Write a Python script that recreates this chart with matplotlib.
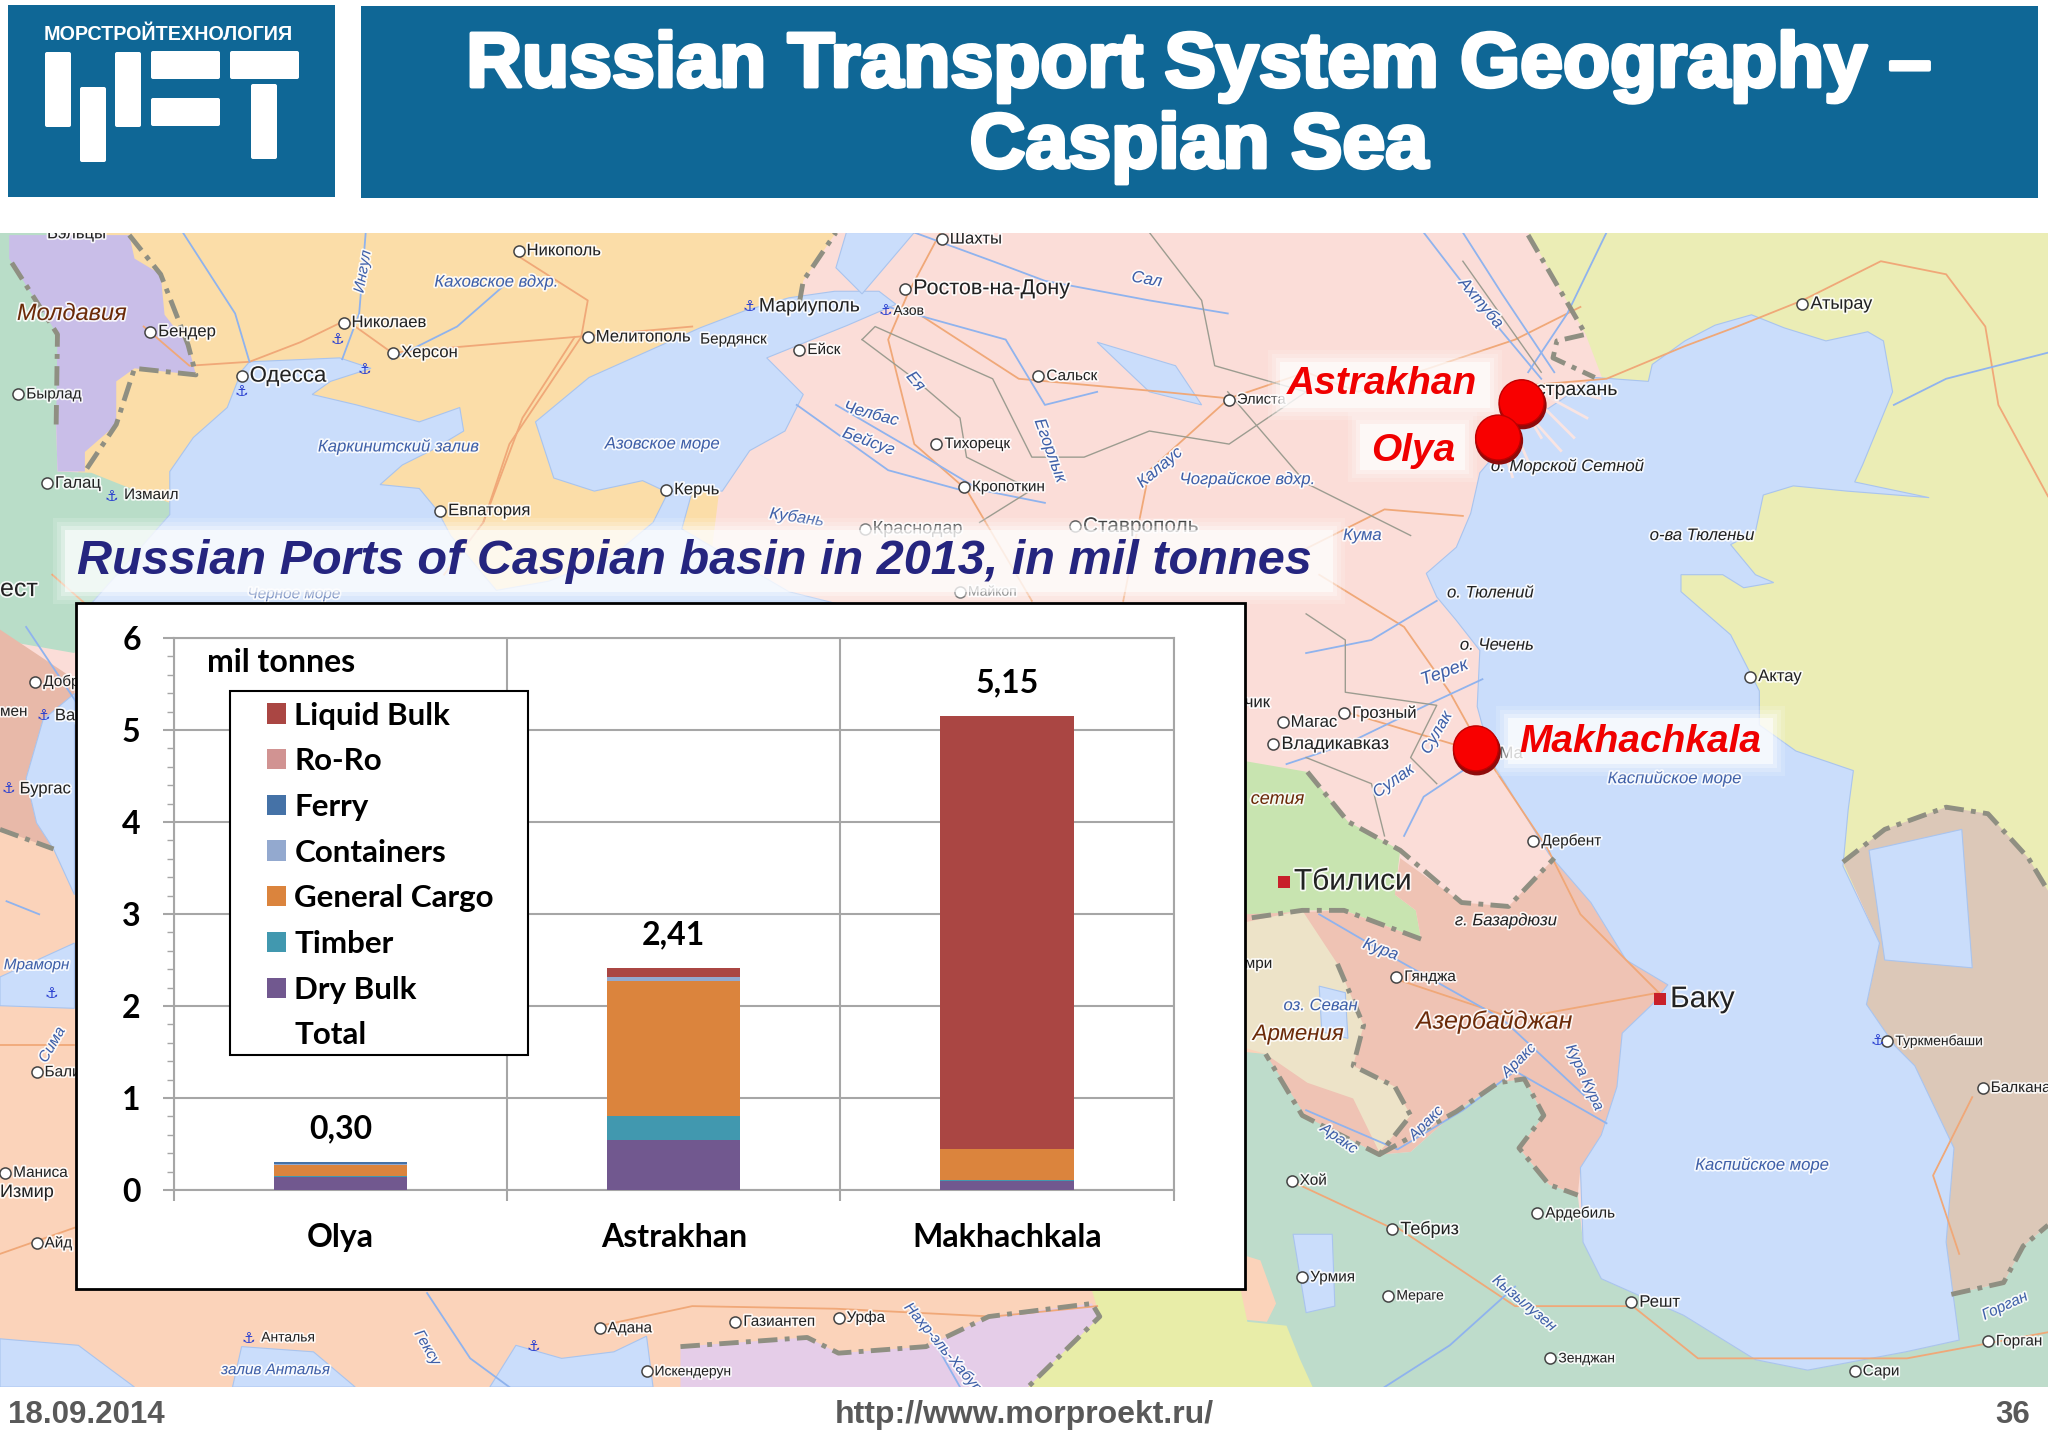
import matplotlib
matplotlib.use('Agg')
import matplotlib.pyplot as plt
import matplotlib.patheffects as pe
from matplotlib.patches import Rectangle, Polygon, Circle, FancyBboxPatch, Patch

# Chart data, mil tonnes
ports = ['Olya', 'Astrakhan', 'Makhachkala']
totals = [0.30, 2.41, 5.15]
total_labels = ['0,30', '2,41', '5,15']
dry_bulk = [0.14, 0.54, 0.10]
timber = [0.01, 0.265, 0.005]
general_cargo = [0.12, 1.47, 0.345]
containers = [0.01, 0.045, 0.0]
ferry = [0.02, 0.0, 0.0]
ro_ro = [0.0, 0.0, 0.0]
liquid_bulk = [0.0, 0.09, 4.70]

series_names = ['Dry Bulk', 'Timber', 'General Cargo', 'Containers', 'Ferry', 'Ro-Ro', 'Liquid Bulk']
series_values = [dry_bulk, timber, general_cargo, containers, ferry, ro_ro, liquid_bulk]
series_colors = ['#71588F', '#4198AF', '#DB843D', '#93A9CF', '#4572A7', '#D19392', '#AA4643']

BLUE = '#0F6796'
SEA = '#CADDFB'
S = 2048 / 1568  # map outlines were read at 1568 wide

# Map outlines: colour, points
map_regions = [
    ('#FBDDA8', [(60,178),(640,178),(615,215),(612,232),(560,300),(540,462),(100,462),(130,385),(60,365)]),
    ('#B9DDC8', [(0,178),(50,178),(43,325),(44,361),(70,362),(95,372),(130,385),(130,400),(70,462),(57,500),(0,490)]),
    ('#C9BEE8', [(7,180),(99,180),(103,198),(123,210),(126,241),(144,264),(150,287),(103,282),(89,292),
                 (89,325),(65,346),(65,361),(44,361),(43,325),(44,256),(21,220),(7,198)]),
    ('#E8B9A9', [(0,482),(57,520),(57,535),(33,551),(20,596),(28,630),(41,650),(0,640)]),
    ('#FBD3BA', [(0,635),(41,650),(57,685),(985,685),(985,1062),(0,1062)]),
    ('#EBEDB5', [(1170,178),(1568,178),(1568,700),(1411,680),(1300,560),(1280,430),(1214,256)]),
    ('#C8E4B0', [(949,582),(1001,591),(1032,629),(1072,651),(1068,685),(1084,697),(1088,719),(1029,697),
                 (997,697),(949,704)]),
    ('#EFC3B4', [(1072,657),(1119,691),(1155,694),(1190,657),(1218,691),(1245,735),(1277,754),(1265,769),
                 (1242,791),(1238,832),(1226,869),(1210,894),(1208,915),(1186,907),(1163,879),(1182,854),
                 (1167,826),(1147,829),(1115,851),(1080,882),(1056,884),(997,854),(973,820),(953,700),
                 (1029,697),(1088,719),(1084,697),(1068,685)]),
    ('#EDE3C8', [(949,707),(997,697),(1024,738),(1044,785),(1036,816),(1068,832),(1080,854),(1056,882),
                 (1036,841),(1001,829),(969,807),(949,801)]),
    ('#BEDCCB', [(949,805),(969,807),(1000,855),(1056,884),(1080,882),(1115,851),(1147,829),(1167,826),
                 (1182,854),(1163,879),(1186,907),(1208,915),(1212,951),(1226,979),(1289,1007),(1344,1041),
                 (1384,1049),(1459,1035),(1500,1026),(1494,991),(1534,982),(1549,954),(1568,938),(1568,1062),
                 (949,1062)]),
    ('#DCC8B8', [(1411,660),(1443,635),(1490,618),(1522,623),(1553,657),(1568,682),(1568,938),(1549,954),
                 (1534,982),(1494,991),(1490,951),(1496,879),(1451,801),(1429,769),(1439,722)]),
    ('#FBD3BA', [(949,960),(965,965),(977,998),(970,1012),(949,1010)]),
    ('#E8EDA8', [(836,988),(950,988),(955,1012),(985,1015),(995,1040),(1005,1062),(787,1062),(842,1008)]),
    ('#E5CDE8', [(521,1031),(618,1024),(642,1036),(709,1031),(757,1008),(836,998),(842,1008),(787,1062),(521,1062)]),
]
map_seas = [
    [(70,462),(130,394),(130,361),(148,335),(174,312),(185,284),(191,277),(260,274),(284,282),(253,292),
     (239,302),(273,310),(321,323),(352,312),(355,330),(330,345),(308,356),(291,371),(321,374),(335,391),
     (345,410),(380,452),(420,445),(470,425),(500,400),(512,376),(530,376),(522,405),(604,453),(640,462)],
    [(424,366),(410,323),(451,289),(536,251),(570,238),(604,228),(639,223),(673,223),(686,233),(649,249),
     (587,274),(615,302),(601,330),(574,345),(553,376),(509,376),(492,368),(455,376)],
    [(1221,289),(1262,292),(1265,279),(1290,261),(1313,249),(1341,241),(1366,251),(1398,261),(1430,254),
     (1442,261),(1449,300),(1426,356),(1420,369),(1477,381),(1414,376),(1373,372),(1350,379),(1344,407),
     (1325,417),(1344,440),(1358,446),(1335,450),(1319,440),(1287,440),(1287,453),(1325,486),(1347,529),
     (1347,555),(1375,575),(1419,590),(1415,620),(1411,663),(1439,722),(1429,769),(1451,801),(1466,816),
     (1496,879),(1490,951),(1500,1026),(1459,1035),(1384,1049),(1344,1041),(1289,1007),(1226,979),(1212,951),
     (1210,894),(1226,869),(1238,832),(1242,791),(1265,769),(1277,754),(1245,735),(1218,691),(1186,654),
     (1147,591),(1143,585),(1131,541),(1133,498),(1115,475),(1100,457),(1092,439),(1115,419),(1126,393),
     (1133,362),(1161,329)],
    [(1431,651),(1502,635),(1510,741),(1443,735)],
    [(57,531),(33,551),(20,596),(28,630),(41,650),(57,685)],
    [(0,748),(57,722),(57,772),(0,770)],
    [(0,1025),(60,1030),(80,1045),(103,1062),(0,1062)],
    [(178,1062),(185,1031),(240,1035),(272,1062)],
    [(375,1062),(395,1030),(430,1040),(470,1035),(495,1023),(500,1062)],
    [(648,178),(700,178),(660,225),(640,205)],
    [(1010,755),(1030,760),(1032,795),(1012,790)],
    [(990,945),(1020,945),(1022,1000),(1000,1005)],
    [(840,262),(880,300),(920,310),(900,280)],
]
map_delta = [
    [(1165,310),(1180,335)], [(1168,315),(1195,345)], [(1175,305),(1205,335)], [(1178,300),(1215,320)],
    [(1160,330),(1172,358)], [(1150,340),(1158,365)], [(1185,295),(1225,305)],
]
map_rivers = [
    [(140,178),(180,240),(191,277)],
    [(280,178),(275,240),(262,275)],
    [(390,215),(350,250),(300,275)],
    [(700,178),(760,200),(800,215),(880,230),(940,240)],
    [(680,235),(770,260),(800,310),(840,300)],
    [(1180,290),(1130,230),(1090,178)],
    [(1190,285),(1150,225),(1120,178)],
    [(640,310),(700,345),(750,375),(800,385)],
    [(610,310),(680,360),(735,375)],
    [(985,585),(1030,570),(1092,540),(1135,520)],
    [(1000,500),(1050,490),(1100,460)],
    [(1120,590),(1090,610),(1075,640)],
    [(1000,850),(1070,880),(1120,850),(1160,820),(1230,860)],
    [(1010,700),(1070,735),(1150,780),(1225,850)],
    [(1160,985),(1110,1030),(1060,1062)],
    [(327,990),(360,1040),(390,1062)],
    [(700,1000),(735,1062)],
    [(1230,178),(1200,240),(1170,285)],
    [(1568,270),(1490,290),(1450,310)],
    [(20,480),(60,540)],
    [(30,700),(5,690)],
]
map_roads = [
    [(110,250),(145,280),(191,277),(230,262),(265,245),(300,270),(440,258),(530,250)],
    [(395,195),(450,230),(445,258),(390,340),(370,400)],
    [(440,258),(400,320),(370,400),(340,440)],
    [(720,178),(695,225),(680,260),(700,340),(740,375),(790,460)],
    [(695,235),(780,290),(890,300),(941,305),(1000,285),(1040,300),(1160,260),(1210,235)],
    [(941,305),(880,360),(860,460)],
    [(1000,420),(1060,390),(1120,395)],
    [(1010,440),(1075,480),(1110,530),(1135,575),(1185,650),(1210,700),(1270,760)],
    [(1030,545),(1130,575)],
    [(1380,230),(1330,250),(1290,265),(1230,290),(1170,295)],
    [(1380,230),(1440,200),(1490,210),(1520,250),(1530,310),(1568,380)],
    [(1070,750),(1160,780),(1270,760)],
    [(1070,940),(1160,1000),(1250,1000),(1300,1040),(1460,1040),(1568,1020)],
    [(990,905),(1065,940)],
    [(0,800),(57,800)],
    [(0,960),(57,940)],
    [(460,1015),(530,1000),(640,1002),(760,1008),(840,1000)],
    [(40,440),(65,462)],
    [(1510,840),(1480,900),(1500,960)],
]
map_borders = [
    [(1170,180),(1214,256),(1192,261),(1189,274),(1221,289)],
    [(1411,660),(1443,635),(1490,618),(1522,623),(1553,657),(1568,682)],
    [(1001,591),(1032,629),(1072,651),(1119,691),(1155,694),(1190,657)],
    [(1088,719),(1029,697),(997,697),(949,704)],
    [(1024,738),(1044,785),(1036,816),(1068,832),(1080,854),(1056,884),(997,854),(969,807)],
    [(1056,884),(1115,851),(1147,829),(1167,826),(1182,854),(1163,879),(1186,907),(1208,915)],
    [(43,325),(44,256),(21,220),(7,198)],
    [(99,180),(123,210),(144,264),(150,287),(103,282),(89,325),(65,361)],
    [(521,1031),(618,1024),(642,1036),(709,1031),(757,1008),(836,998),(842,1008),(787,1062)],
    [(612,232),(615,215),(640,178)],
    [(1494,991),(1534,982),(1549,954),(1568,938)],
    [(0,635),(41,650)],
]
map_regional = [
    [(660,260),(670,250),(760,290),(780,330),(790,350),(830,350),(880,330),(941,340),(1000,300),(930,280),(920,230),(880,178)],
    [(750,400),(790,375),(740,350),(735,320),(700,290),(660,260)],
    [(1080,410),(1000,370),(940,300)],
    [(1120,200),(1180,285)],
    [(1000,470),(1030,490),(1030,530),(1100,540),(1080,580),(1100,600)],
    [(1000,580),(1050,600),(1060,640)],
]
# x, y, text, size
map_cities = [
    (397,192,'Никополь',12), (721,183,'Шахты',12), (693,221,'Ростов-на-Дону',15.5), (263,247,'Николаев',12),
    (115,254,'Бендер',12), (301,270,'Херсон',12), (450,258,'Мелитополь',12),
    (612,268,'Ейск',11), (185,288,'Одесса',16), (795,288,'Сальск',11), (941,306,'Элиста',10.5),
    (1380,233,'Атырау',13), (717,340,'Тихорецк',11), (738,373,'Кропоткин',11), (337,391,'Евпатория',12),
    (510,375,'Керчь',12), (36,370,'Галац',12), (14,302,'Бырлад',11), (1340,518,'Актау',12),
    (1029,546,'Грозный',12), (982,553,'Магас',12), (975,570,'Владикавказ',13), (1174,644,'Дербент',11),
    (1069,748,'Гянджа',11), (989,904,'Хой',11), (1066,941,'Тебриз',13), (1177,929,'Ардебиль',11),
    (997,978,'Урмия',11), (1063,992,'Мераге',10), (1249,997,'Решт',12), (1187,1040,'Зенджан',10),
    (1420,1050,'Сари',11), (1518,833,'Балкана',11), (1522,1027,'Горган',11), (27,522,'Добр',11),
    (28,821,'Бали',11), (4,898,'Маниса',11), (28,952,'Айд',11), (459,1017,'Адана',11),
    (563,1012,'Газиантеп',11), (642,1009,'Урфа',11), (495,1050,'Искендерун',10), (1445,797,'Туркменбаши',10),
    (823,403,'Ставрополь',15), (662,405,'Краснодар',13), (735,453,'Майкоп',10),
]
map_plain = [
    (36,179,'Бэльцы',12), (0,451,'ест',18), (0,545,'мен',11), (95,379,'Измаил',11), (42,548,'Вар',12),
    (15,604,'Бургас',12), (200,1024,'Анталья',10), (581,235,'Мариуполь',14), (684,238,'Азов',10),
    (0,913,'Измир',13), (1176,299,'страхань',14), (953,538,'чик',12), (953,738,'мри',11), (1148,577,'Ма',12),
    (536,260,'Бердянск',11),
]
map_blue = [
    (380,216,'Каховское вдхр.',12,0), (305,342,'Каркинитский залив',12,0), (507,340,'Азовское море',12,0),
    (667,317,'Челбас',12,-15), (665,338,'Бейсуг',12,-20), (701,292,'Ея',12,-50), (878,214,'Сал',12,-10),
    (888,358,'Калаус',12,40), (804,345,'Егорлык',12,-70), (955,367,'Чограйское вдхр.',12,0),
    (610,396,'Кубань',12,-8), (1043,410,'Кума',12,0), (1134,232,'Ахтуба',12,-50), (1106,515,'Терек',13,20),
    (1100,561,'Сулак',12,60), (1067,598,'Сулак',12,35), (1282,596,'Каспийское море',12,0),
    (1057,727,'Кура',12,-20), (1011,770,'оз. Севан',12,0), (1349,892,'Каспийское море',12,0),
    (1213,825,'Кура Кура',11,-65), (1163,812,'Аракс',11,45), (1092,860,'Аракс',11,45), (1025,872,'Аракс',11,-35),
    (1167,998,'Кызылузен',11,-40), (1535,1000,'Горган',11,25), (211,1049,'залив Анталья',11,0),
    (327,1032,'Гексу',11,-60), (722,1032,'Нахр-эль-Хабур',11,-50), (28,739,'Мраморн',11,0), (278,208,'Ингул',11,80),
    (225,455,'Черное море',11,0), (40,800,'Сима',11,60),
]
map_dark_italic = [
    (1200,357,'о. Морской Сетной',12), (1303,410,'о-ва Тюленьи',12), (1141,454,'о. Тюлений',12),
    (1146,494,'о. Чечень',12), (1153,705,'г. Базардюзи',12),
]
map_countries = [
    (55,240,'Молдавия',17), (1144,782,'Азербайджан',18), (994,792,'Армения',16), (978,612,'сетия',13),
]
map_anchors = [(185,300),(258,260),(279,283),(85,380),(574,235),(678,238),(33,548),(6,604),(39,761),(190,1025),(408,1031),(1437,797)]
capitals = [(983,675,'Тбилиси',21.5), (1271,765,'Баку',21.5)]

port_labels = [('Astrakhan',1058,294,28), ('Olya',1082,345,28), ('Makhachkala',1256,568,28)]
port_dots = [(1165,308), (1147,335), (1130,573)]

fig = plt.figure(figsize=(20.48, 14.48), dpi=100, facecolor='white')

# Full page axes in image pixels
bg = fig.add_axes([0, 0, 1, 1])
bg.set_xlim(0, 2048)
bg.set_ylim(1448, 0)
bg.axis('off')

def px(pts):
    return [(x * S, y * S) for x, y in pts]

halo = [pe.withStroke(linewidth=2.5, foreground='white', alpha=0.85)]

# --- map ---
bg.add_patch(Rectangle((0, 233), 2048, 1154, fc='#FBDDD8', ec='none', zorder=1))
for color, pts in map_regions:
    bg.add_patch(Polygon(px(pts), fc=color, ec='none', zorder=2))
for pts in map_seas:
    bg.add_patch(Polygon(px(pts), fc=SEA, ec='#A9C4EE', lw=0.8, zorder=3))
for pts in map_delta:
    xy = px(pts)
    bg.plot([p[0] for p in xy], [p[1] for p in xy], color='#F9E4E2', lw=2, zorder=4)
for pts in map_roads:
    xy = px(pts)
    bg.plot([p[0] for p in xy], [p[1] for p in xy], color='#F0A878', lw=1.3, zorder=4)
for pts in map_rivers:
    xy = px(pts)
    bg.plot([p[0] for p in xy], [p[1] for p in xy], color='#8FB3EE', lw=1.3, zorder=4)
for pts in map_regional:
    xy = px(pts)
    bg.plot([p[0] for p in xy], [p[1] for p in xy], color='#9C9C90', lw=1, zorder=4)
for pts in map_borders:
    xy = px(pts)
    bg.plot([p[0] for p in xy], [p[1] for p in xy], color='#8F8F82', lw=3.5, zorder=4,
            dashes=(4, 1.5, 1, 1.5))

for x, y, name, size in map_cities:
    bg.plot(x * S, y * S, 'o', ms=8, mfc='white', mec='#444444', mew=1.1, zorder=5)
    bg.text(x * S + 8, y * S, name, fontsize=size, color='#222222', family='Liberation Sans', va='center',
            path_effects=halo, zorder=6)
for x, y, name, size in map_plain:
    bg.text(x * S, y * S, name, fontsize=size, color='#222222', family='Liberation Sans', va='center',
            path_effects=halo, zorder=6)
for x, y, name, size, rot in map_blue:
    bg.text(x * S, y * S, name, fontsize=size, color='#3E5FA8', family='Liberation Sans', style='italic',
            ha='center', va='center', rotation=rot, path_effects=halo, zorder=6)
for x, y, name, size in map_dark_italic:
    bg.text(x * S, y * S, name, fontsize=size, color='#222222', family='Liberation Sans', style='italic',
            ha='center', va='center', path_effects=halo, zorder=6)
for x, y, name, size in map_countries:
    bg.text(x * S, y * S, name, fontsize=size, color='#6B2A08', family='Liberation Sans', style='italic',
            ha='center', va='center', path_effects=halo, zorder=6)
for x, y in map_anchors:
    bg.text(x * S, y * S, '\u2693', fontsize=11, color='#2A3FD0', family='DejaVu Sans', ha='center',
            va='center', zorder=6)
for x, y, name, size in capitals:
    bg.add_patch(Rectangle((x * S - 6, y * S - 6), 12, 12, fc='#C8202A', ec='none', zorder=5))
    bg.text(x * S + 10, y * S, name, fontsize=size, color='#222222', family='Liberation Sans', va='center',
            path_effects=halo, zorder=6)

# soft white boxes behind the overlaid captions
for grow, alpha in [(12, 0.15), (8, 0.2), (4, 0.3), (0, 0.6)]:
    bg.add_patch(Rectangle((65 - grow, 530 - grow), 1268 + 2 * grow, 62 + 2 * grow, fc='white', ec='none',
                           alpha=alpha, zorder=7))
    bg.add_patch(Rectangle((1280 - grow, 362 - grow), 210 + 2 * grow, 46 + 2 * grow, fc='white', ec='none',
                           alpha=alpha, zorder=7))
    bg.add_patch(Rectangle((1360 - grow, 424 - grow), 105 + 2 * grow, 46 + 2 * grow, fc='white', ec='none',
                           alpha=alpha, zorder=7))
    bg.add_patch(Rectangle((1508 - grow, 718 - grow), 265 + 2 * grow, 46 + 2 * grow, fc='white', ec='none',
                           alpha=alpha, zorder=7))

for x, y in port_dots:
    bg.add_patch(Circle((x * S + 1, y * S + 3), 24, fc='#8E0B0B', ec='none', zorder=8))
    bg.add_patch(Circle((x * S, y * S), 22.5, fc='#F80000', ec='#C00000', lw=1, zorder=8))
for name, x, y, size in port_labels:
    bg.text(x * S, y * S, name, fontsize=size, color='#F00000', family='Liberation Sans', weight='bold',
            style='italic', ha='center', va='center', zorder=9)

bg.text(532 * S, 430 * S, 'Russian Ports of Caspian basin in 2013, in mil tonnes', fontsize=35, color='#25257F',
        family='Liberation Sans', weight='bold', style='italic', ha='center', va='center', zorder=9)

# --- header and footer ---
bg.add_patch(Rectangle((0, 0), 2048, 233, fc='white', ec='none', zorder=10))
bg.add_patch(Rectangle((0, 1387), 2048, 61, fc='white', ec='none', zorder=10))
bg.add_patch(Rectangle((8, 5), 327, 192, fc=BLUE, ec='none', zorder=11))
bg.add_patch(Rectangle((361, 6), 1677, 192, fc=BLUE, ec='none', zorder=11))

logo_blocks = [(45,52,26,75), (80,87,26,75), (115,52,26,75), (151,51,69,28), (151,98,69,28), (230,51,69,28), (251,84,26,75)]
for x, y, w, h in logo_blocks:
    bg.add_patch(FancyBboxPatch((x + 2, y + 2), w - 4, h - 4, boxstyle='round,pad=2', fc='white', ec='none', zorder=12))
bg.text(168, 35, 'МОРСТРОЙТЕХНОЛОГИЯ', fontsize=14.2, color='white', family='Liberation Sans', weight='bold',
        ha='center', va='center', zorder=12)

title_fx = [pe.withStroke(linewidth=2.8, foreground='white')]
bg.text(1199, 66, 'Russian Transport System Geography –', fontsize=55.5, color='white', family='Liberation Sans',
        weight='bold', ha='center', va='center', path_effects=title_fx, zorder=12)
bg.text(1199, 147, 'Caspian Sea', fontsize=55.5, color='white', family='Liberation Sans', weight='bold',
        ha='center', va='center', path_effects=title_fx, zorder=12)

bg.text(8, 1415, '18.09.2014', fontsize=22.5, color='#595959', family='Liberation Sans', weight='bold',
        va='center', zorder=12)
bg.text(1024, 1415, 'http://www.morproekt.ru/', fontsize=23, color='#595959', family='Liberation Sans',
        weight='bold', ha='center', va='center', zorder=12)
bg.text(2030, 1415, '36', fontsize=22.5, color='#595959', family='Liberation Sans', weight='bold', ha='right',
        va='center', zorder=12)

# chart panel
bg.add_patch(Rectangle((76, 603), 1169, 686, fc='white', ec='black', lw=2, zorder=13))

# --- stacked bars ---
ax = fig.add_axes([174 / 2048, 1 - 1190 / 1448, (1173.5 - 174) / 2048, (1190 - 638) / 1448])
ax.patch.set_alpha(0)
ax.set_xlim(0, 3)
ax.set_ylim(0, 6)
positions = [0.5, 1.5, 2.5]
bottom = [0.0, 0.0, 0.0]
for name, values, color in zip(series_names, series_values, series_colors):
    ax.bar(positions, values, 0.4, bottom=bottom, color=color, zorder=3)
    bottom = [b + v for b, v in zip(bottom, values)]

for pos, total, label in zip(positions, totals, total_labels):
    ax.text(pos, total + 0.36, label, fontsize=23, family='Lato', weight='bold', color='black',
            ha='center', va='center')

ax.set_xticks([0, 1, 2, 3])
ax.set_xticklabels([])
ax.set_xticks(positions, minor=True)
ax.set_xticklabels(ports, minor=True, fontsize=23, family='Lato', weight='bold')
ax.tick_params(axis='x', which='major', length=8, width=1.5, color='#A6A6A6')
ax.tick_params(axis='x', which='minor', length=0, pad=24)
ax.set_yticks(range(7))
ax.set_yticks([i * 0.2 for i in range(31)], minor=True)
ax.set_yticklabels(['0', '1', '2', '3', '4', '5', '6'], fontsize=23, family='Lato', weight='bold')
ax.tick_params(axis='y', which='major', length=8, width=1.5, color='#A6A6A6', pad=16)
ax.tick_params(axis='y', which='minor', length=5, width=1, color='#A6A6A6')
ax.grid(True, which='major', color='#A6A6A6', lw=1.5, zorder=0)
ax.set_axisbelow(True)
for spine in ax.spines.values():
    spine.set_color('#A6A6A6')
    spine.set_linewidth(1.5)

fig.text(207 / 2048, 1 - 662 / 1448, 'mil tonnes', fontsize=23, family='Lato', weight='bold', va='center')

# legend box is drawn apart because its side padding is larger than the top padding
fig.add_artist(Rectangle((230 / 2048, 1 - 1055 / 1448), 297.5 / 2048, 364 / 1448, transform=fig.transFigure,
                         fc='white', ec='black', lw=1.5, zorder=19))
handles = [Patch(fc=c, ec='none', label=n) for n, c in zip(series_names[::-1], series_colors[::-1])]
handles.append(Patch(fc='none', ec='none', label='Total'))
leg = fig.legend(handles=handles, loc='upper left', bbox_to_anchor=(266.5 / 2048, 1 - 701.5 / 1448),
                 bbox_transform=fig.transFigure, borderaxespad=0, frameon=False, borderpad=0,
                 prop={'family': 'Lato', 'weight': 'bold', 'size': 22.6},
                 handlelength=0.61, handleheight=0.61, handletextpad=0.28, labelspacing=0.564)
leg.set_zorder(20)

fig.savefig('out.png', dpi=100)
